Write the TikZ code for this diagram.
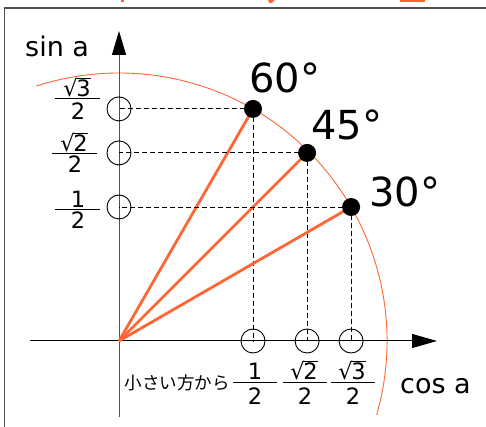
\documentclass[tikz,border=0pt]{standalone}
\usepackage{fontspec}
\setmainfont{DejaVu Sans}
\newfontfamily\cjk{Noto Sans CJK JP}
\usetikzlibrary{arrows.meta,calc}
\definecolor{orng}{RGB}{255,102,51}
\definecolor{frm}{RGB}{80,80,80}
\newcommand\rad[1]{√\kern-1.4pt\vbox{\hrule height 1pt\kern 1.3pt\hbox{#1}}}
\begin{document}
\begin{tikzpicture}[x=1pt,y=1pt,
  frac/.style={inner sep=0pt,anchor=base,text height=16pt,text depth=0pt,font=\fontsize{22.5}{22.5}\selectfont},
  bar/.style={line width=1pt},
  ang/.style={inner sep=0pt,font=\fontsize{40}{40}\selectfont},
  axlab/.style={inner sep=0pt,anchor=base west,font=\fontsize{27}{27}\selectfont},
  dsh/.style={dash pattern=on 5pt off 3pt,line width=0.9pt},
  ring/.style={draw,circle,minimum size=24pt,inner sep=0pt,line width=0.9pt},
  ray/.style={orng,line width=2.8pt},
  dot/.style={fill=black,circle,minimum size=18pt,inner sep=0pt}]
\useasboundingbox (0,0) rectangle (486,427);
% frame
\draw[frm,line width=1.4pt] (4.5,0) -- (4.5,419) -- (486,419);
% top fragments
\fill[orng] (400,424.5) rectangle (425,427);
\fill[orng] (268,427) -- (275,427) -- (272,424) -- (269,424) -- cycle;
\fill[orng] (121,425) rectangle (124,427);
\coordinate (O) at (119,86);
% arc
\draw[orng,line width=0.9pt] (O) ++(-16:268) arc[start angle=-16,end angle=108,radius=268];
% axes
\coordinate (yb) at (119,10);
\coordinate (yt) at (119,396);
\coordinate (xl) at (30,86);
\coordinate (xr) at (437,86);
\draw[frm,line width=1pt,-{Triangle[length=24pt,width=14pt,fill=black,color=black]}] (yb) -- (yt);
\draw[line width=1pt,-{Triangle[length=25pt,width=14pt]}] (xl) -- (xr);
% points
\coordinate (P60) at ($(O)+(60:268)$);
\coordinate (P45) at ($(O)+(45:266)$);
\coordinate (P30) at ($(O)+(30:268)$);
% rings
\foreach \n in {60,45,30}{
  \node[ring] (ry\n) at (O |- P\n) {};
  \node[ring] (rx\n) at (P\n |- O) {};
  \draw[dsh] (P\n) -- (ry\n.center);
  \draw[dsh] (P\n) -- (rx\n.center);
  \draw[ray] (O) -- (P\n);
  \node[dot] (d\n) at (P\n) {};
}
% angle labels
\node[ang] (l60) at (285,349) {60°};
\node[ang] (l45) at (347,302) {45°};
\node[ang] (l30) at (405,235) {30°};
% axis labels
\node[axlab] (sin) at (25,370) {sin a};
\node[axlab] (cos) at (400,33) {cos a};
% left fractions
\node[frac] (n1) at (77,330) {\rad{3}};
\draw[bar] (55,328) -- (100,328);
\node[frac] (m1) at (78,307) {2};
\node[frac] (n2) at (74,275) {\rad{2}};
\draw[bar] (52,273) -- (97,273);
\node[frac] (m2) at (75,254) {2};
\node[frac] (n3) at (78,219) {1};
\draw[bar] (55,217) -- (100,217);
\node[frac] (m3) at (78,198) {2};
% bottom
\node[inner sep=0pt,anchor=base,font=\cjk\fontsize{17.5}{17.5}\selectfont] (small) at (177,37) {小さい方から};
\node[frac] (b1) at (255,47) {1};
\draw[bar] (233,44) -- (277,44);
\node[frac] (c1) at (255,22) {2};
\node[frac] (b2) at (304,47) {\rad{2}};
\draw[bar] (283,44) -- (327,44);
\node[frac] (c2) at (305,22) {2};
\node[frac] (b3) at (352,47) {\rad{3}};
\draw[bar] (331,44) -- (375,44);
\node[frac] (c3) at (353,22) {2};
\end{tikzpicture}
\end{document}
